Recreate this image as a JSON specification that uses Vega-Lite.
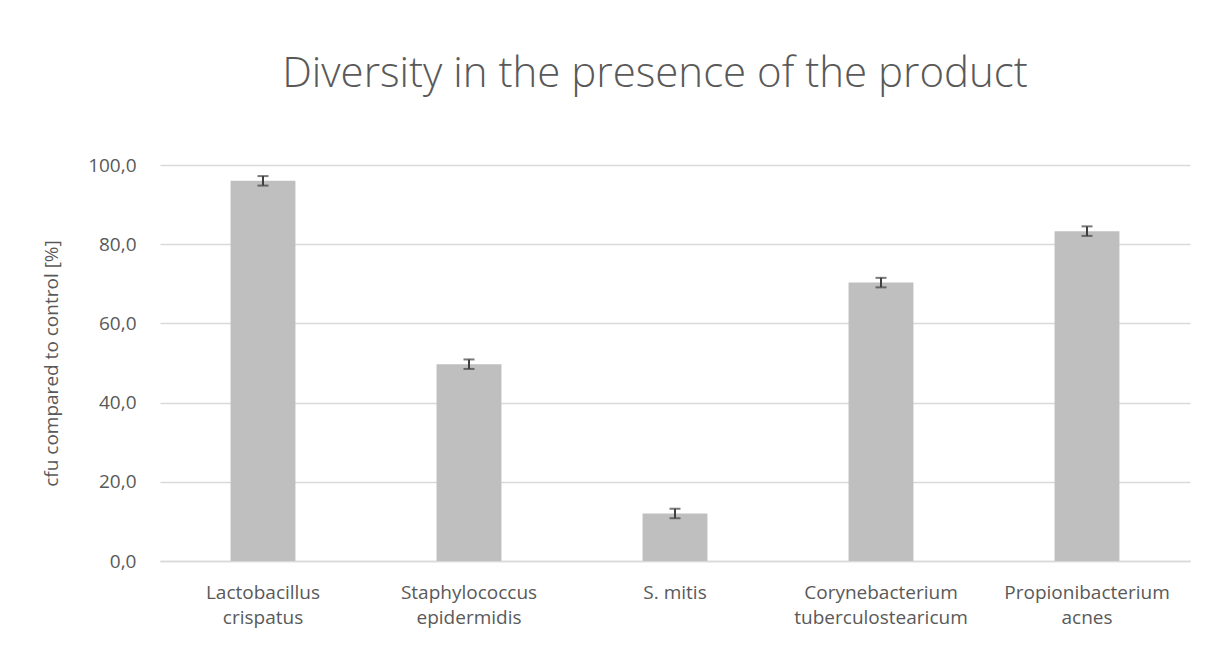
{
  "$schema": "https://vega.github.io/schema/vega-lite/v6.json",
  "autosize": "none",
  "width": 1030,
  "height": 396,
  "padding": {"left": 160, "top": 165, "right": 18, "bottom": 85},
  "background": "white",
  "config": {
    "view": {"stroke": null},
    "font": "Open Sans"
  },
  "title": {
    "text": "Diversity in the presence of the product",
    "anchor": "middle",
    "fontSize": 42,
    "font": "Open Sans",
    "fontWeight": 300,
    "color": "#595959",
    "offset": 60,
    "dx": -20
  },
  "data": {
    "values": [
      {"species": "Lactobacillus crispatus", "value": 96.0, "err": 1.2},
      {"species": "Staphylococcus epidermidis", "value": 49.7, "err": 1.2},
      {"species": "S. mitis", "value": 12.0, "err": 1.2},
      {"species": "Corynebacterium tuberculostearicum", "value": 70.3, "err": 1.2},
      {"species": "Propionibacterium acnes", "value": 83.3, "err": 1.2}
    ]
  },
  "transform": [
    {"calculate": "datum.value - datum.err", "as": "lo"},
    {"calculate": "datum.value + datum.err", "as": "hi"}
  ],
  "encoding": {
    "x": {
      "field": "species",
      "type": "nominal",
      "sort": null,
      "scale": {"paddingInner": 0.685, "paddingOuter": 0.3425},
      "axis": {
        "title": null,
        "labelAngle": 0,
        "labelFontSize": 19,
        "labelColor": "#595959",
        "labelPadding": 22,
        "labelLineHeight": 25,
        "labelExpr": "datum.value == 'S. mitis' ? datum.value : split(datum.value, ' ')",
        "ticks": false,
        "domainColor": "#d9d9d9",
        "domainWidth": 1.5,
        "grid": false
      }
    }
  },
  "layer": [
    {
      "mark": {"type": "bar", "color": "#bfbfbf"},
      "encoding": {
        "y": {
          "field": "value",
          "type": "quantitative",
          "scale": {"domain": [0, 100]},
          "axis": {
            "title": "cfu compared to control [%]",
            "titleFontSize": 19,
            "titleFontWeight": "normal",
            "titleColor": "#595959",
            "titlePadding": 26,
            "values": [0, 20, 40, 60, 80, 100],
            "labelExpr": "replace(format(datum.value, '.1f'), '.', ',')",
            "labelFontSize": 19,
            "labelColor": "#595959",
            "labelPadding": 24,
            "ticks": false,
            "domain": false,
            "gridColor": "#d9d9d9",
            "gridWidth": 1.5
          }
        }
      }
    },
    {
      "mark": {"type": "rule", "color": "#404040", "strokeWidth": 2},
      "encoding": {
        "y": {"field": "lo", "type": "quantitative"},
        "y2": {"field": "hi"}
      }
    },
    {
      "mark": {"type": "tick", "orient": "horizontal", "color": "#404040", "size": 11, "thickness": 2},
      "encoding": {"y": {"field": "lo", "type": "quantitative"}}
    },
    {
      "mark": {"type": "tick", "orient": "horizontal", "color": "#404040", "size": 11, "thickness": 2},
      "encoding": {"y": {"field": "hi", "type": "quantitative"}}
    }
  ]
}
